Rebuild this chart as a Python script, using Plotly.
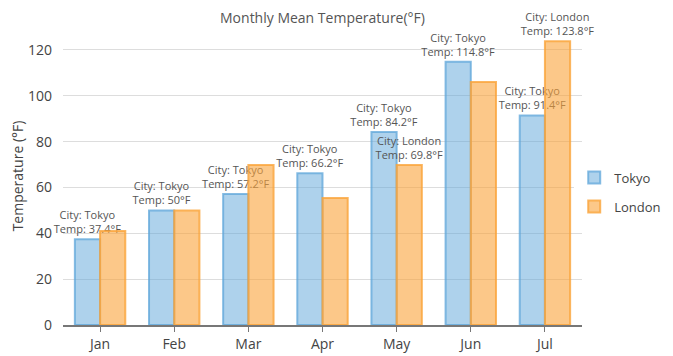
import plotly.graph_objects as go

months = ["Jan", "Feb", "Mar", "Apr", "May", "Jun", "Jul"]
tokyo = [37.4, 50, 57.2, 66.2, 84.2, 114.8, 91.4]
london = [41.0, 50, 69.8, 55.4, 69.8, 106.0, 123.8]
london_labelled = [False, False, False, False, True, False, True]
y_ticks = [0, 20, 40, 60, 80, 100, 120]

tokyo_text = [f"City: Tokyo<br>Temp: {v:g}°F" for v in tokyo]
london_text = [f"City: London<br>Temp: {v:g}°F" if s else "" for v, s in zip(london, london_labelled)]

FONT = "Segoe UI, Open Sans, sans-serif"

# page body has an 8px margin, so the figure is sized to fit the window
W, H = 665, 348
L, R, T, B = 55, 91, 19, 31

fig = go.Figure()
fig.add_trace(go.Bar(
    name="Tokyo", x=months, y=tokyo, text=tokyo_text, legendgroup="tokyo",
    textposition="outside", constraintext="none", cliponaxis=False,
    textfont=dict(size=11, color="#555555", family=FONT),
    marker=dict(color="rgba(93,165,218,0.5)", line=dict(color="rgba(93,165,218,0.75)", width=2)),
))
fig.add_trace(go.Bar(
    name="London", x=months, y=london, text=london_text, legendgroup="london",
    textposition="outside", constraintext="none", cliponaxis=False,
    textfont=dict(size=11, color="#555555", family=FONT),
    marker=dict(color="rgba(250,164,58,0.6)", line=dict(color="rgba(250,164,58,0.8)", width=2)),
))

fig.update_layout(
    width=W, height=H,
    margin=dict(l=L, r=R, t=T, b=B, autoexpand=False),
    paper_bgcolor="white", plot_bgcolor="white",
    font=dict(family=FONT, color="#444444"),
    title=dict(text="Monthly Mean Temperature(°F)", x=(L + (W - R)) / 2 / W, xanchor="center",
               y=1 - 10 / H, yanchor="middle", pad=dict(t=0, b=0),
               font=dict(size=14, color="#555555")),
    barmode="group", bargap=0.32, bargroupgap=0,
    showlegend=True,
    legend=dict(x=0.985, y=0.446, xanchor="left", yanchor="middle",
                font=dict(size=13, color="#444444"), tracegroupgap=9, itemwidth=30),
    xaxis=dict(showline=True, linecolor="#777777", linewidth=2, ticks="outside",
               ticklen=5, tickcolor="#777777", tickfont=dict(size=14, color="#444444"),
               showgrid=False, automargin=False),
    yaxis=dict(range=[0, 130], tickvals=y_ticks, showgrid=True, gridcolor="#dddddd",
               zeroline=False, tickfont=dict(size=14, color="#444444"),
               ticklabelstandoff=10, automargin=False,
               title=dict(text="Temperature (°F)", standoff=8,
                          font=dict(size=14, color="#444444"))),
)

fig.write_html("out.html")
